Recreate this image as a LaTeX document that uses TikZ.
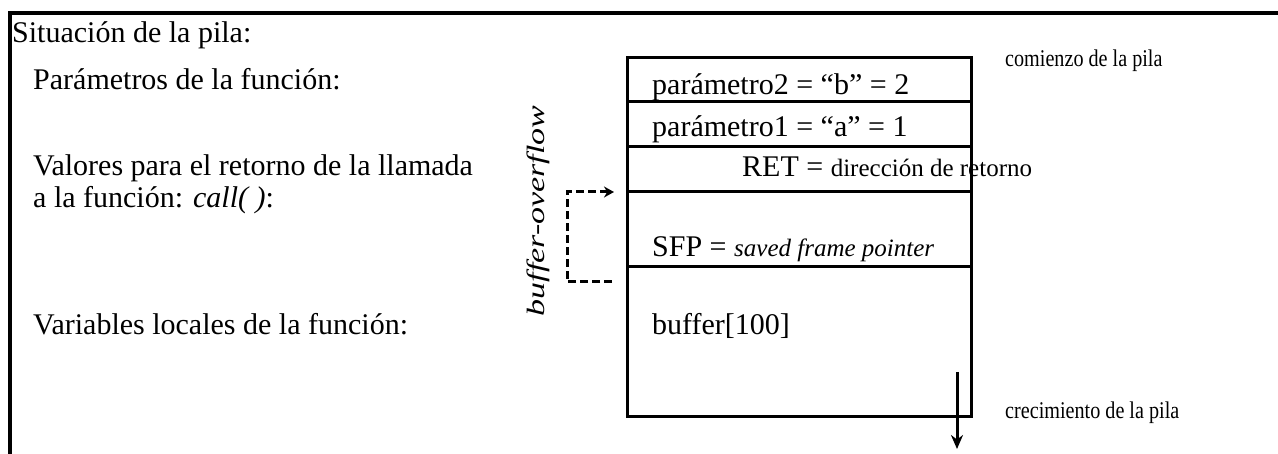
\documentclass[tikz,border=0pt]{standalone}
\usepackage{fontspec}
\setmainfont{Liberation Serif}
\usetikzlibrary{arrows.meta}
% condensed setting for the small side notes
\newcommand\narrowtext[1]{\scalebox{0.84}[1]{#1}}
\begin{document}
\begin{tikzpicture}[x=1pt,y=-1pt,
  frameline/.style={line width=3.5pt},
  cell/.style={draw, line width=3pt, minimum width=344pt, inner sep=0pt, outer sep=0pt, anchor=north west},
  txt/.style={anchor=base west, inner sep=0pt, font=\fontsize{30}{34}\selectfont},
  small/.style={anchor=base west, inner sep=0pt, font=\fontsize{24}{28}\selectfont},
  overflow/.style={line width=3pt, dash pattern=on 8pt off 4pt, -{Stealth[length=10pt,width=11pt]}},
  growarrow/.style={line width=3pt, -{Stealth[length=14pt,width=12pt]}}
]
\useasboundingbox (0,0) rectangle (1278,454);

% outer frame (top and left edges)
\coordinate (ftl) at (10,13);
\coordinate (ftr) at (1280,13);
\coordinate (fbl) at (10,456);
\draw[frameline] (ftr) -- (ftl) -- (fbl);

% left column labels
\node[txt] (sit) at (12,43) {Situación de la pila:};
\node[txt] (par) at (33,90) {Parámetros de la función:};
\node[txt] (val1) at (33,176) {Valores para el retorno de la llamada};
\node[txt] (val2) at (33,208) {a la función: \textit{call( )}:};
\node[txt] (var) at (33,335) {Variables locales de la función:};

% stack cells
\node[cell, minimum height=44pt] (c1) at (627,58) {};
\node[cell, minimum height=45pt] (c2) at (627,102) {};
\node[cell, minimum height=45pt] (c3) at (627,147) {};
\node[cell, minimum height=75pt] (c4) at (627,192) {};
\node[cell, minimum height=150pt] (c5) at (627,267) {};

% cell contents
\node[txt] (p2) at (652,95) {parámetro2 = “b” = 2};
\node[txt] (p1) at (652,137) {parámetro1 = “a” = 1};
\node[txt] (ret) at (742,177) {RET = {\fontsize{25}{28}\selectfont dirección de retorno}};
\node[txt] (sfp) at (652,257) {SFP = {\fontsize{25}{28}\selectfont\itshape saved frame pointer}};
\node[txt] (buf) at (652,335) {buffer[100]};

% side notes
\node[small] (top) at (1005,67) {\narrowtext{comienzo de la pila}};
\node[small] (bot) at (1005,419) {\narrowtext{crecimiento de la pila}};

% overflow path from the buffer up to the return address
\coordinate (ovs) at (612,282);
\coordinate (ove) at (614,192);
\draw[overflow] (ovs) -- (567,282) -- (567,192) -- (ove);
\node[rotate=90, inner sep=0pt, font=\fontsize{25}{30}\selectfont\itshape] (bo) at (538,211) {\scalebox{1.36}[1]{buffer-overflow}};

% growth direction
\coordinate (gs) at (957,372);
\coordinate (ge) at (957,449);
\draw[growarrow] (gs) -- (ge);
\end{tikzpicture}
\end{document}
